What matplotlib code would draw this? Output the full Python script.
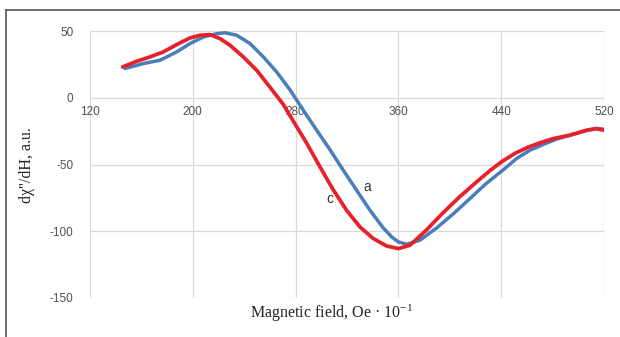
import matplotlib
matplotlib.use("Agg")
import matplotlib.pyplot as plt
from matplotlib.lines import Line2D

plt.rcParams["axes.unicode_minus"] = False
plt.rcParams["mathtext.fontset"] = "custom"
plt.rcParams["mathtext.rm"] = "Liberation Serif"
plt.rcParams["mathtext.it"] = "Liberation Serif:italic"

# Curve a (blue)
a_x = [147.2, 161.5, 174.5, 187.4, 197.8, 208.2, 218.6, 225, 234.2, 244.5, 254.9,
       265.3, 275.6, 286, 296.4, 306.8, 317.1, 327.5, 337.9, 348.2, 355, 360, 366.4,
       376.8, 389.8, 402.7, 415.7, 428, 441.6, 452, 462.4, 472.7, 483, 493.5, 506.5,
       514.3, 519.5]
a_y = [21.9, 25.6, 28.1, 34.3, 40.6, 45.5, 48, 48.7, 46.8, 40.6, 30.6,
       19.3, 6, -9.4, -24.3, -39, -54.3, -69.3, -84.3, -97.5, -104.5, -108, -109.7,
       -106.7, -97.5, -87, -75.5, -64.5, -54, -45.5, -39.3, -35, -31, -28.1, -24.5,
       -23, -23.5]

# Curve c (red)
c_x = [145.4, 156.3, 166.7, 177, 187.4, 197.8, 205.6, 213.4, 221.2, 229, 239.3,
       249.7, 260, 270.4, 278.2, 288.6, 299, 309.3, 319.7, 330.1, 340.5, 350.8, 360,
       369, 381.9, 394.9, 407.9, 420.9, 431.3, 441, 451, 461, 471, 481,
       493.5, 506.5, 514.3, 519.5]
c_y = [23.1, 27.3, 30.6, 34.3, 39.8, 44.8, 46.8, 47.3, 44.3, 39.3, 30.6,
       20.6, 8, -5, -17.5, -34, -51.8, -69, -84.3, -96.8, -105.5, -111, -113,
       -110.5, -99, -86, -74, -63, -54.5, -47.5, -41.5, -37, -33.5, -30.5,
       -28, -24.3, -23.1, -24.3]

x_ticks = [120, 200, 280, 360, 440, 520]
y_ticks = [-150, -100, -50, 0, 50]

fig = plt.figure(figsize=(6.2, 3.37), dpi=100)
fig.patch.set_facecolor("white")
ax = fig.add_axes([90/620, 1-298/337, (604-90)/620, (298-31)/337])

ax.plot(a_x, a_y, color="#4a7ebb", lw=2.5, solid_capstyle="round", solid_joinstyle="round")
ax.plot(c_x, c_y, color="#e8202a", lw=2.7, solid_capstyle="round", solid_joinstyle="round")

ax.set_xlim(120, 520)
ax.set_ylim(-150, 50)
ax.set_xticks(x_ticks)
ax.set_yticks(y_ticks)
ax.grid(True, color="#d9d9d9", lw=0.9)
ax.set_axisbelow(True)
for s in ax.spines.values():
    s.set_visible(False)
ax.spines["bottom"].set_position(("data", 0))
ax.tick_params(axis="both", length=0, labelsize=8.5, colors="#505050",
               labelfontfamily="Liberation Sans")
ax.tick_params(axis="x", pad=6)
ax.tick_params(axis="y", pad=12)

ax.text(335.4, -66.8, "a", fontsize=10, color="#333333", ha="center", va="center",
        family="Liberation Sans")
ax.text(306.8, -75.5, "c", fontsize=10, color="#333333", ha="center", va="center",
        family="Liberation Sans")

fig.text(332/620, 1-313/337, r"Magnetic field, Oe · 10$^{\mathrm{-1}}$", ha="center",
         va="center", fontsize=11.5, family="Liberation Serif", color="#222222")
fig.text(27/620, 1-165/337, "dχ''/dH, a.u.", rotation=90, ha="center", va="center",
         fontsize=11.5, family="Liberation Serif", color="#222222")

# outer frame
fig.add_artist(Line2D([6/620, 6/620], [0, 1-10/337], transform=fig.transFigure,
                      color="#555555", lw=1.2))
fig.add_artist(Line2D([6/620, 1], [1-10/337, 1-10/337], transform=fig.transFigure,
                      color="#555555", lw=1.2))

fig.savefig("out.png", dpi=100, facecolor="white")
